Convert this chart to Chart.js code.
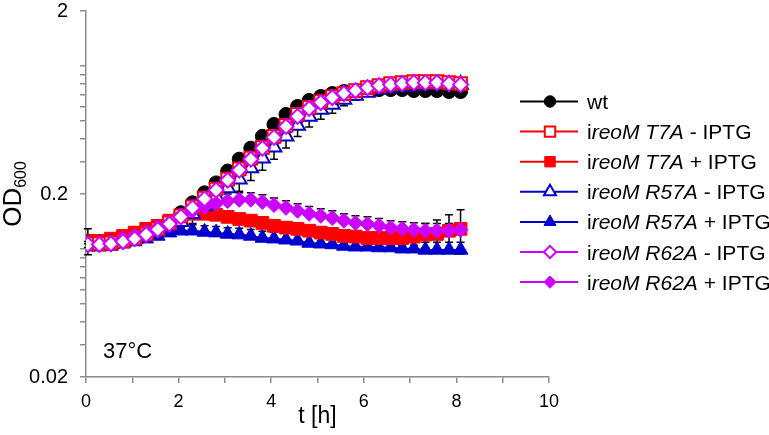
<!DOCTYPE html>
<html>
<head>
<meta charset="utf-8">
<script src="https://cdn.jsdelivr.net/npm/chart.js@4.4.1/dist/chart.umd.min.js"></script>
<style>
  html, body { margin: 0; padding: 0; background: #fff; }
</style>
</head>
<body>
<canvas id="myChart" width="769" height="435"></canvas>
<script>
// sampling times (h)
var times = [0.04, 0.29, 0.54, 0.80, 1.05, 1.30, 1.55, 1.80, 2.05, 2.30, 2.56, 2.81, 3.06, 3.31, 3.56, 3.81, 4.06,
             4.32, 4.57, 4.82, 5.07, 5.32, 5.57, 5.82, 6.08, 6.33, 6.58, 6.83, 7.08, 7.33, 7.58, 7.84, 8.09];

// OD600 values
var odWt = [0.107, 0.107, 0.108, 0.111, 0.115, 0.121, 0.129, 0.141, 0.158, 0.179, 0.203, 0.230, 0.267, 0.310, 0.356, 0.413, 0.480,
            0.544, 0.602, 0.649, 0.682, 0.708, 0.726, 0.735, 0.744, 0.744, 0.744, 0.744, 0.735, 0.735, 0.735, 0.726, 0.726];
var odT7aMinus = [0.107, 0.107, 0.108, 0.111, 0.115, 0.121, 0.129, 0.139, 0.152, 0.170, 0.190, 0.213, 0.241, 0.274, 0.314, 0.360, 0.413,
                  0.474, 0.544, 0.594, 0.640, 0.682, 0.708, 0.735, 0.763, 0.782, 0.802, 0.812, 0.823, 0.823, 0.823, 0.812, 0.802];
var odT7aPlus = [0.111, 0.111, 0.114, 0.118, 0.123, 0.129, 0.134, 0.143, 0.152, 0.156, 0.156, 0.154, 0.150, 0.146, 0.143, 0.139, 0.134,
                 0.131, 0.129, 0.126, 0.123, 0.121, 0.118, 0.117, 0.115, 0.115, 0.115, 0.115, 0.117, 0.120, 0.121, 0.126, 0.129];
var odR57aMinus = [0.106, 0.106, 0.107, 0.110, 0.114, 0.120, 0.128, 0.134, 0.141, 0.156, 0.172, 0.193, 0.216, 0.241, 0.277, 0.314, 0.360,
                   0.413, 0.474, 0.531, 0.580, 0.617, 0.657, 0.690, 0.717, 0.744, 0.763, 0.773, 0.782, 0.792, 0.792, 0.792, 0.792];
var odR57aPlus = [0.103, 0.103, 0.104, 0.107, 0.110, 0.114, 0.118, 0.123, 0.126, 0.126, 0.124, 0.123, 0.121, 0.120, 0.118, 0.115, 0.114,
                  0.1125, 0.111, 0.108, 0.107, 0.106, 0.104, 0.103, 0.103, 0.102, 0.102, 0.1005, 0.1005, 0.099, 0.099, 0.099, 0.099];
var odR62aMinus = [0.106, 0.106, 0.107, 0.110, 0.114, 0.120, 0.128, 0.137, 0.150, 0.168, 0.188, 0.210, 0.238, 0.270, 0.310, 0.356, 0.408,
                   0.468, 0.531, 0.587, 0.632, 0.673, 0.708, 0.735, 0.763, 0.782, 0.792, 0.802, 0.812, 0.812, 0.812, 0.802, 0.792];
var odR62aPlus = [0.106, 0.106, 0.108, 0.114, 0.118, 0.123, 0.131, 0.139, 0.152, 0.162, 0.170, 0.177, 0.183, 0.186, 0.186, 0.181, 0.174,
                  0.168, 0.162, 0.156, 0.152, 0.148, 0.143, 0.139, 0.137, 0.134, 0.131, 0.129, 0.1275, 0.126, 0.126, 0.126, 0.1275];

// error bars (OD units)
var errT7aPlus = [0.018, 0.005, 0.005, 0.005, 0.005, 0.005, 0.005, 0.006, 0.006, 0.006, 0.006, 0.006, 0.006, 0.006, 0.006, 0.006, 0.006,
                  0.006, 0.006, 0.006, 0.006, 0.006, 0.006, 0.006, 0.007, 0.008, 0.009, 0.010, 0.012, 0.018, 0.023, 0.028, 0.035];
var errR57aMinus = [0.004, 0.004, 0.004, 0.004, 0.004, 0.005, 0.006, 0.008, 0.010, 0.018, 0.022, 0.027, 0.030, 0.034, 0.040, 0.044, 0.050,
                    0.056, 0.062, 0.066, 0.068, 0.065, 0.050, 0.040, 0.030, 0.020, 0.012, 0.010, 0.010, 0.010, 0.010, 0.010, 0.010];
var errR57aPlus = [0.004, 0.004, 0.004, 0.005, 0.006, 0.007, 0.008, 0.009, 0.010, 0.010, 0.010, 0.010, 0.010, 0.010, 0.010, 0.010, 0.010,
                   0.010, 0.010, 0.010, 0.010, 0.010, 0.010, 0.010, 0.010, 0.010, 0.010, 0.010, 0.010, 0.010, 0.010, 0.010, 0.010];
var errR62aPlus = [0.004, 0.004, 0.004, 0.004, 0.004, 0.005, 0.006, 0.008, 0.010, 0.013, 0.015, 0.016, 0.017, 0.017, 0.017, 0.017, 0.016,
                   0.016, 0.015, 0.015, 0.014, 0.014, 0.013, 0.013, 0.013, 0.013, 0.012, 0.012, 0.012, 0.012, 0.012, 0.012, 0.012];

var seriesLabels = ['wt', 'ireoM T7A - IPTG', 'ireoM T7A + IPTG', 'ireoM R57A - IPTG',
                    'ireoM R57A + IPTG', 'ireoM R62A - IPTG', 'ireoM R62A + IPTG'];

var yTickValues = [0.02, 0.03, 0.04, 0.05, 0.06, 0.07, 0.08, 0.09, 0.1, 0.2, 0.3, 0.4, 0.5, 0.6, 0.7, 0.8, 0.9, 1, 2];
var yTickLabels = ['0.02', '0.2', '2'];
var xTickLabels = ['0', '2', '4', '6', '8', '10'];

var FONT = 'Arial, "Liberation Sans", sans-serif';
var RED = '#ff0000', BLUE = '#0000cc', PURPLE = '#cc00ff';

function pts(vals) {
  return vals.map(function (v, i) { return { x: times[i], y: v }; });
}

function series(label, vals, color, style, radius, hollow, order, errors, dir) {
  return {
    label: label,
    data: pts(vals),
    borderColor: color,
    backgroundColor: color,
    borderWidth: 2,
    pointStyle: style,
    pointRadius: radius,
    pointBackgroundColor: hollow ? '#ffffff' : color,
    pointBorderColor: color,
    pointBorderWidth: hollow ? 2 : 1,
    tension: 0,
    order: order,
    errors: errors,
    errorDir: dir
  };
}

// error bars, y title, note and legend
var extrasPlugin = {
  id: 'extras',
  beforeDatasetsDraw: function (chart) {
    var ctx = chart.ctx, xs = chart.scales.x, ys = chart.scales.y;
    ctx.save();
    ctx.strokeStyle = '#000';
    ctx.lineWidth = 1.5;
    chart.data.datasets.forEach(function (ds) {
      if (!ds.errors) return;
      ds.data.forEach(function (p, i) {
        var e = ds.errors[i];
        if (!e) return;
        var px = xs.getPixelForValue(p.x);
        var py = ys.getPixelForValue(p.y);
        var ends = [];
        if (ds.errorDir !== 'down') ends.push(ys.getPixelForValue(p.y + e));
        if (ds.errorDir !== 'up') ends.push(ys.getPixelForValue(p.y - e));
        ends.forEach(function (ey) {
          ctx.beginPath();
          ctx.moveTo(px, py); ctx.lineTo(px, ey);
          ctx.moveTo(px - 4, ey); ctx.lineTo(px + 4, ey);
          ctx.stroke();
        });
      });
    });
    ctx.restore();
  },
  afterDraw: function (chart) {
    var ctx = chart.ctx, area = chart.chartArea;
    ctx.save();
    ctx.fillStyle = '#000';
    ctx.textBaseline = 'alphabetic';

    // y title OD600
    ctx.save();
    ctx.translate(21, (area.top + area.bottom) / 2);
    ctx.rotate(-Math.PI / 2);
    ctx.font = '26px ' + FONT;
    var w1 = ctx.measureText('OD').width;
    ctx.font = '16px ' + FONT;
    var w2 = ctx.measureText('600').width;
    var sx = -(w1 + w2) / 2;
    ctx.font = '26px ' + FONT;
    ctx.fillText('OD', sx, 0);
    ctx.font = '16px ' + FONT;
    ctx.fillText('600', sx + w1, 5);
    ctx.restore();

    // temperature note
    ctx.font = '22px ' + FONT;
    ctx.fillText('37\u00B0C', 103, 358);

    // legend
    var lx0 = 520, lx1 = 578, mx = 550, tx = 587;
    chart.data.datasets.forEach(function (ds, k) {
      var ly = 101.5 + k * 30.1;
      ctx.strokeStyle = ds.borderColor;
      ctx.lineWidth = 2;
      ctx.beginPath();
      ctx.moveTo(lx0, ly); ctx.lineTo(lx1, ly);
      ctx.stroke();
      ctx.fillStyle = ds.pointBackgroundColor;
      ctx.strokeStyle = ds.pointBorderColor;
      ctx.lineWidth = ds.pointBorderWidth;
      Chart.helpers.drawPoint(ctx, { pointStyle: ds.pointStyle, radius: ds.pointRadius * 0.82, rotation: 0, borderWidth: ds.pointBorderWidth }, mx, ly);
      // label: leading "i" upright, mutant name italic
      var parts;
      var m = ds.label.match(/^i(reoM \S+)(.*)$/);
      if (m) parts = [['i', ''], [m[1], 'italic '], [m[2], '']];
      else parts = [[ds.label, '']];
      var x = tx;
      ctx.fillStyle = '#000';
      parts.forEach(function (pt) {
        ctx.font = pt[1] + '21px ' + FONT;
        ctx.fillText(pt[0], x, ly + 7.5);
        x += ctx.measureText(pt[0]).width;
      });
    });
    ctx.restore();
  }
};

var ctx = document.getElementById('myChart').getContext('2d');
var chart = new Chart(ctx, {
  type: 'line',
  data: {
    datasets: [
      series(seriesLabels[0], odWt, '#000000', 'circle', 7, false, 7),
      series(seriesLabels[1], odT7aMinus, RED, 'rect', 9, true, 3),
      series(seriesLabels[2], odT7aPlus, RED, 'rect', 9, false, 5, errT7aPlus, 'both'),
      series(seriesLabels[3], odR57aMinus, BLUE, 'triangle', 8.5, true, 4, errR57aMinus, 'down'),
      series(seriesLabels[4], odR57aPlus, BLUE, 'triangle', 8.5, false, 6, errR57aPlus, 'up'),
      series(seriesLabels[5], odR62aMinus, PURPLE, 'rectRot', 7.5, true, 1),
      series(seriesLabels[6], odR62aPlus, PURPLE, 'rectRot', 7.5, false, 2, errR62aPlus, 'up')
    ]
  },
  options: {
    responsive: false,
    animation: false,
    devicePixelRatio: 1,
    layout: { padding: { top: 9, right: 220, left: 0, bottom: 0 } },
    plugins: { legend: { display: false }, tooltip: { enabled: false } },
    scales: {
      x: {
        type: 'linear',
        min: 0,
        max: 10,
        afterFit: function (s) { s.height = 58; s.paddingLeft = 0; s.paddingRight = 0; },
        ticks: {
          stepSize: 1,
          color: '#000',
          font: { size: 18, family: FONT },
          padding: 8,
          maxRotation: 0,
          autoSkip: false,
          callback: function (v) { return xTickLabels.indexOf(String(v)) >= 0 ? String(v) : ''; }
        },
        grid: { drawOnChartArea: false, drawTicks: true, tickLength: 6, color: '#8c8c8c', lineWidth: 1.5 },
        border: { color: '#8c8c8c', width: 1.5 },
        title: { display: true, text: 't [h]', color: '#000', font: { size: 23, family: FONT }, padding: { top: 0, bottom: 5 } }
      },
      y: {
        type: 'logarithmic',
        min: 0.02,
        max: 2,
        afterFit: function (s) { s.width = 86; s.paddingTop = 0; s.paddingBottom = 0; },
        afterBuildTicks: function (s) {
          s.ticks = yTickValues.map(function (v) { return { value: v }; });
        },
        ticks: {
          color: '#000',
          font: { size: 20, family: FONT },
          padding: 12,
          autoSkip: false,
          callback: function (v) {
            var t = String(Math.round(v * 1000) / 1000);
            return yTickLabels.indexOf(t) >= 0 ? t : '';
          }
        },
        grid: { drawOnChartArea: false, drawTicks: true, tickLength: 6, color: '#8c8c8c', lineWidth: 1.5 },
        border: { color: '#8c8c8c', width: 1.5 }
      }
    }
  },
  plugins: [extrasPlugin]
});
</script>
</body>
</html>
